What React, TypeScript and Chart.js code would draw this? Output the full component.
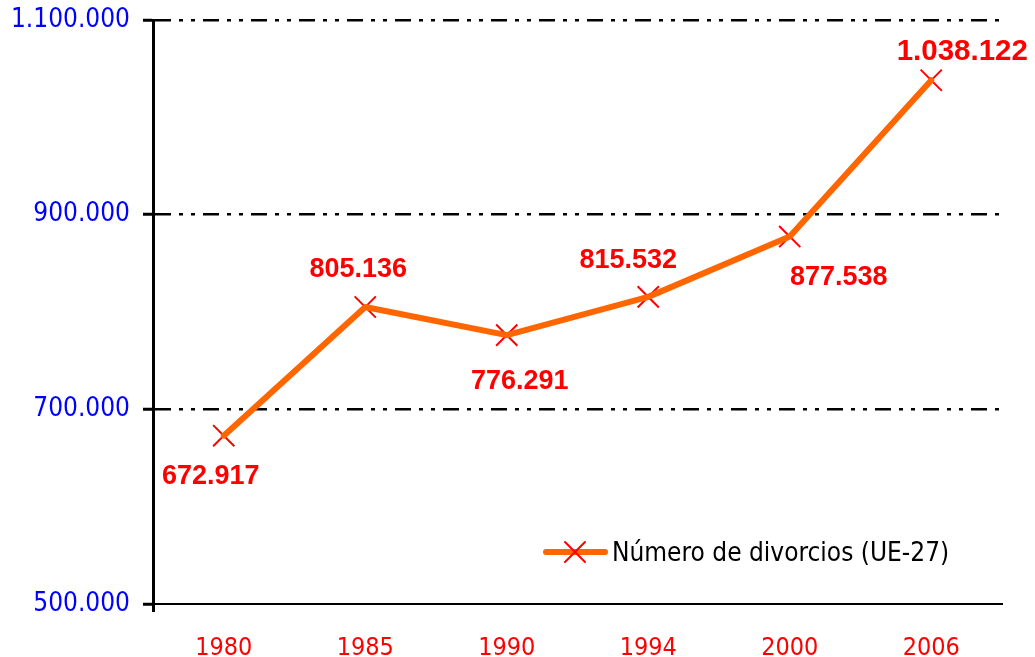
import React, { useEffect, useRef } from "react";
import { Chart, registerables } from "chart.js";

Chart.register(...registerables);

const YEARS = ["1980", "1985", "1990", "1994", "2000", "2006"];
const DIVORCES = [672917, 805136, 776291, 815532, 877538, 1038122];
const VALUE_LABELS = ["672.917", "805.136", "776.291", "815.532", "877.538", "1.038.122"];
const Y_TICK_VALUES = [500000, 700000, 900000, 1100000];
const Y_TICK_LABELS = ["500.000", "700.000", "900.000", "1.100.000"];
const SERIES_LABEL = "Número de divorcios (UE-27)";

// label placement offsets relative to each point (style, not data)
const LABEL_OFFSETS: [number, number][] = [
  [-13, 41],
  [-7, -37],
  [13, 46],
  [-20, -36],
  [49, 41],
  [31, -28],
];
const LABEL_FONT_SIZES = [27, 27, 27, 27, 27, 29.5];

const ORANGE = "#FF6600";
const RED = "#FF0000";
const COND = "'DejaVu Sans Condensed', 'DejaVu Sans', sans-serif";

function drawX(ctx: CanvasRenderingContext2D, x: number, y: number, r: number) {
  ctx.save();
  ctx.strokeStyle = RED;
  ctx.lineWidth = 2;
  ctx.beginPath();
  ctx.moveTo(x - r, y - r);
  ctx.lineTo(x + r, y + r);
  ctx.moveTo(x + r, y - r);
  ctx.lineTo(x - r, y + r);
  ctx.stroke();
  ctx.restore();
}

const labelPlugin = {
  id: "valueLabels",
  afterDatasetsDraw(chart: any) {
    const ctx = chart.ctx as CanvasRenderingContext2D;
    const meta = chart.getDatasetMeta(1);
    ctx.save();
    ctx.fillStyle = RED;
    ctx.textAlign = "center";
    ctx.textBaseline = "middle";
    meta.data.forEach((pt: any, i: number) => {
      const [dx, dy] = LABEL_OFFSETS[i];
      ctx.font = `bold ${LABEL_FONT_SIZES[i]}px 'Liberation Sans', Arial, sans-serif`;
      ctx.fillText(VALUE_LABELS[i], pt.x + dx, pt.y + dy);
    });
    ctx.restore();
  },
};

const legendPlugin = {
  id: "customLegend",
  afterDraw(chart: any) {
    const ctx = chart.ctx as CanvasRenderingContext2D;
    ctx.save();
    ctx.strokeStyle = ORANGE;
    ctx.lineWidth = 6;
    ctx.lineCap = "round";
    ctx.beginPath();
    ctx.moveTo(546, 552);
    ctx.lineTo(605, 552);
    ctx.stroke();
    drawX(ctx, 575, 552, 10);
    ctx.fillStyle = "#000";
    ctx.font = `26px ${COND}`;
    ctx.textAlign = "left";
    ctx.textBaseline = "middle";
    ctx.fillText(SERIES_LABEL, 612, 554);
    ctx.restore();
  },
};

export default function App() {
  const ref = useRef<HTMLCanvasElement>(null);
  useEffect(() => {
    if (!ref.current) return;
    const chart = new Chart(ref.current, {
      type: "line",
      data: {
        labels: YEARS,
        datasets: [
          {
            label: SERIES_LABEL + " marker",
            data: DIVORCES,
            showLine: false,
            pointStyle: "crossRot",
            pointRadius: 15,
            pointBorderColor: RED,
            pointBorderWidth: 2,
            borderColor: RED,
            order: 2,
          },
          {
            label: SERIES_LABEL,
            data: DIVORCES,
            borderColor: ORANGE,
            borderWidth: 6,
            borderJoinStyle: "round",
            borderCapStyle: "round",
            pointRadius: 0,
            tension: 0,
            order: 1,
          },
        ],
      },
      options: {
        responsive: false,
        animation: false,
        layout: { padding: { top: 20, right: 33, left: 0, bottom: 0 } },
        plugins: {
          legend: { display: false },
          tooltip: { enabled: false },
        },
        scales: {
          x: {
            offset: true,
            afterFit: (s: any) => {
              s.height = 53;
              s.paddingLeft = 0;
              s.paddingRight = 0;
            },
            grid: {
              offset: true,
              drawOnChartArea: false,
              drawTicks: true,
              tickLength: 8,
              tickWidth: 3,
              color: (c: any) => (c.index === 0 ? "#000" : "rgba(0,0,0,0)"),
              tickColor: (c: any) => (c.index === 0 ? "#000" : "rgba(0,0,0,0)"),
            },
            border: { display: true, color: "#000", width: 2 },
            ticks: {
              color: RED,
              font: { family: COND, size: 25 },
              padding: 21,
              maxRotation: 0,
            },
          },
          y: {
            min: 500000,
            max: 1100000,
            afterFit: (s: any) => {
              s.width = 153;
              s.paddingTop = 0;
              s.paddingBottom = 0;
            },
            afterBuildTicks: (s: any) => {
              s.ticks = Y_TICK_VALUES.map((v) => ({ value: v }));
            },
            grid: {
              color: (c: any) => (c.index === 0 ? "rgba(0,0,0,0)" : "#000"),
              tickColor: "#000",
              lineWidth: 2.5,
              tickWidth: 3,
              tickLength: 10,
            },
            border: { display: true, color: "#000", width: 3, dash: [16, 8, 4, 8, 4, 8] as any },
            ticks: {
              color: "#0000FF",
              font: { family: COND, size: 26 },
              padding: 13,
              callback: (_v: any, i: number) => Y_TICK_LABELS[i],
            },
          },
        },
      },
      plugins: [labelPlugin, legendPlugin],
    });
    return () => chart.destroy();
  }, []);
  return (
    <div style={{ position: "fixed", left: 0, top: 0, width: 1035, height: 657, background: "#fff" }}>
      <canvas ref={ref} width={1035} height={657} />
    </div>
  );
}
